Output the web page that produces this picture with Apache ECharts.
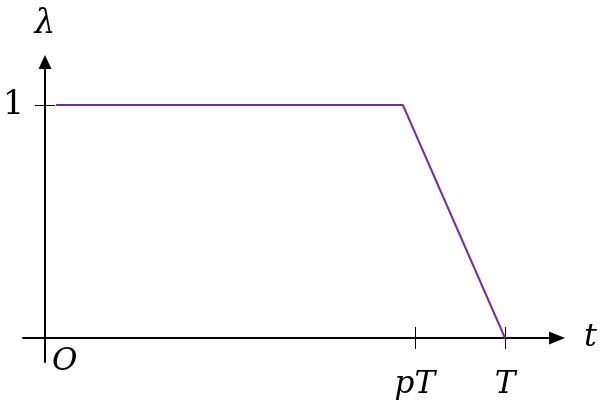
<!DOCTYPE html>
<html><head><meta charset="utf-8">
<script src="https://cdn.jsdelivr.net/npm/echarts@6/dist/echarts.min.js"></script>
<style>html,body{margin:0;padding:0;background:#fff}#c{width:609px;height:408px}</style>
</head><body><div id="c"></div>
<script>
// data
const tValues = [0.024, 0.778, 1];
const lambdaValues = [1, 1, 0];
const xTickValues = [0.804, 1];
const xTickLabels = ['pT', 'T'];
const yTickValues = [1];
const yTickLabels = ['1'];
const originLabel = 'O';

const serif = '"DejaVu Serif", serif';
const axisLineStyle = {color: '#000', width: 2};
const chart = echarts.init(document.getElementById('c'), null, {renderer: 'canvas'});
const xMin = -22/460, xMax = 512/460, yMin = -24/233, yMax = 276/233;
chart.setOption({
  animation: false,
  grid: {left: 23, right: 52, top: 62, bottom: 46},
  xAxis: [
    {type: 'value', min: xMin, max: xMax, position: 'bottom', offset: -24,
     axisLine: {show: true, onZero: false, lineStyle: axisLineStyle, symbol: ['none', 'triangle'], symbolSize: [13, 16]},
     axisTick: {show: true, inside: false, length: 11, customValues: xTickValues, lineStyle: {color: '#000', width: 1}},
     axisLabel: {show: true, customValues: xTickValues, margin: 31,
       formatter: v => xTickLabels[xTickValues.indexOf(v)] || '',
       fontFamily: serif, fontStyle: 'italic', fontSize: 31, color: '#000'},
     splitLine: {show: false},
     name: 't', nameLocation: 'end', nameGap: 27,
     nameTextStyle: {fontFamily: serif, fontStyle: 'italic', fontSize: 32, color: '#000', padding: [8, 0, 0, 0]}},
    {type: 'value', min: xMin, max: xMax, position: 'bottom', offset: -24,
     axisLine: {show: false, onZero: false},
     axisTick: {show: true, inside: true, length: 11, customValues: xTickValues, lineStyle: {color: '#000', width: 1}},
     axisLabel: {show: true, customValues: [0], margin: 8, align: 'left', padding: [0, 0, 0, 7],
       formatter: () => originLabel,
       fontFamily: serif, fontStyle: 'italic', fontSize: 31, color: '#000'},
     splitLine: {show: false}}
  ],
  yAxis: [
    {type: 'value', min: yMin, max: yMax, position: 'left', offset: -22,
     axisLine: {show: true, onZero: false, lineStyle: axisLineStyle, symbol: ['none', 'triangle'], symbolSize: [13, 14]},
     axisTick: {show: true, inside: false, length: 10, customValues: yTickValues, lineStyle: {color: '#000', width: 1}},
     axisLabel: {show: true, customValues: yTickValues, margin: 21,
       formatter: v => yTickLabels[yTickValues.indexOf(v)] || '',
       fontFamily: serif, fontSize: 33, color: '#000'},
     splitLine: {show: false},
     name: 'λ', nameLocation: 'end', nameGap: 21,
     nameTextStyle: {fontFamily: serif, fontStyle: 'italic', fontSize: 33, color: '#000'}},
    {type: 'value', min: yMin, max: yMax, position: 'left', offset: -22,
     axisLine: {show: false, onZero: false},
     axisTick: {show: true, inside: true, length: 10, customValues: yTickValues, lineStyle: {color: '#000', width: 1}},
     axisLabel: {show: false},
     splitLine: {show: false}}
  ],
  series: [{
    type: 'line', xAxisIndex: 0, yAxisIndex: 0,
    data: tValues.map((t, i) => [t, lambdaValues[i]]),
    showSymbol: false, symbol: 'none',
    lineStyle: {color: '#7030A0', width: 2}
  }]
});
</script></body></html>
